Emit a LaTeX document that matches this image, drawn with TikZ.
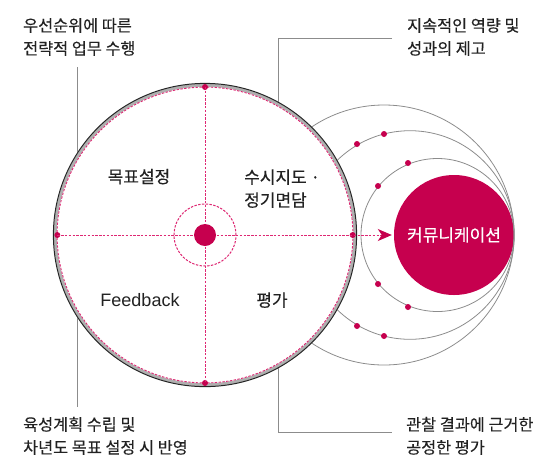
\documentclass[tikz,border=0pt]{standalone}
\usepackage{fontspec}
\setmainfont{Noto Sans CJK KR}[FakeBold=0.25]
\newfontfamily\latinsans{Liberation Sans}
\usetikzlibrary{arrows.meta}
\definecolor{crim}{RGB}{198,0,78}
\definecolor{dashpink}{RGB}{222,40,115}
\definecolor{txt}{RGB}{34,34,34}
\definecolor{gline}{RGB}{140,140,140}
\definecolor{ringgray}{RGB}{175,175,175}
\begin{document}
\begin{tikzpicture}[x=1pt,y=-1pt,
  outer/.style={anchor=base west, inner sep=0pt, text=txt, font=\fontsize{16.3}{20}\selectfont},
  innerlbl/.style={anchor=base, inner sep=0pt, text=txt, font=\fontsize{17}{20}\selectfont},
  innerleft/.style={anchor=base west, inner sep=0pt, text=txt, font=\fontsize{17}{20}\selectfont},
  orbit/.style={draw=gline, line width=0.8pt},
  pinkdash/.style={draw=dashpink, line width=1pt, dash pattern=on 2.4pt off 1.4pt},
  dotmark/.style={circle, fill=crim, inner sep=0pt, minimum size=6pt},
  leader/.style={draw=gline, line width=0.9pt}]
\useasboundingbox (0,0) rectangle (551,459);

% key points
\coordinate (mc) at (205,235);
\coordinate (o1) at (437.5,235);
\coordinate (o2) at (410,235);
\coordinate (o3) at (384,235);
\coordinate (la) at (77.7,67);
\coordinate (lb) at (77.7,407);
\coordinate (ra) at (392,38);
\coordinate (rb) at (278,38);
\coordinate (rc) at (278,432);
\coordinate (rd) at (392,432);

% leader lines (behind main circle)
\draw[leader] (la) -- (lb);
\draw[leader] (ra) -- (rb) -- (rc) -- (rd);

% communication circle
\node[circle, fill=crim, minimum size=120pt, inner sep=0pt, text=white,
      font=\fontsize{17}{20}\selectfont] (comm) at (454,235) {커뮤니케이션};

% orbits
\draw[orbit] (o3) circle[radius=130pt];
\draw[orbit] (o2) circle[radius=104.3pt];
\draw[orbit] (o1) circle[radius=76.5pt];

% orbit dots
\node[dotmark] (d1) at (378,186) {};
\node[dotmark] (d2) at (408,163) {};
\node[dotmark] (d3) at (378,284) {};
\node[dotmark] (d4) at (408,307) {};
\node[dotmark] (d5) at (357,144) {};
\node[dotmark] (d6) at (384,134) {};
\node[dotmark] (d7) at (357,326) {};
\node[dotmark] (d8) at (384,336) {};

% main circle with ring
\fill[white] (mc) circle[radius=152pt];
\draw[ringgray, line width=3pt] (mc) circle[radius=149.8pt];
\draw[black!85, line width=1pt] (mc) circle[radius=151.6pt];
\draw[pinkdash, line width=0.9pt] (mc) circle[radius=147.9pt];

% cross dots
\node[dotmark] (tdot) at (205,87) {};
\node[dotmark] (bdot) at (205,383) {};
\node[dotmark] (ldot) at (57.3,235) {};
\node[dotmark] (rdot) at (352.7,235) {};

% cross lines
\draw[pinkdash] (tdot.center) -- (bdot.center);
\draw[pinkdash, -{Stealth[length=14pt,width=12pt,inset=4pt,color=crim]}, shorten >=2pt]
  (ldot.center) -- (comm.west);

% center
\draw[pinkdash] (mc) circle[radius=31pt];
\node[circle, fill=crim, inner sep=0pt, minimum size=22pt] (cdot) at (mc) {};

% inner labels
\node[innerlbl] (goal) at (139,183) {목표설정};
\node[innerleft] (coach1) at (244,183.5) {수시지도 ·};
\node[innerleft] (coach2) at (244,206.5) {정기면담};
\node[innerlbl, font=\latinsans\fontsize{18}{20}\selectfont] (fb) at (140,306) {Feedback};
\node[innerlbl] (eval) at (272,306.5) {평가};

% outer labels
\node[outer] (tl1) at (23,31.5) {우선순위에 따른};
\node[outer] (tl2) at (23,54.5) {전략적 업무 수행};
\node[outer] (tr1) at (407,31.5) {지속적인 역량 및};
\node[outer] (tr2) at (407,54.5) {성과의 제고};
\node[outer] (bl1) at (23,430.5) {육성계획 수립 및};
\node[outer] (bl2) at (23,453.5) {차년도 목표 설정 시 반영};
\node[outer] (br1) at (406,430.5) {관찰 결과에 근거한};
\node[outer] (br2) at (406,453.5) {공정한 평가};
\end{tikzpicture}
\end{document}
